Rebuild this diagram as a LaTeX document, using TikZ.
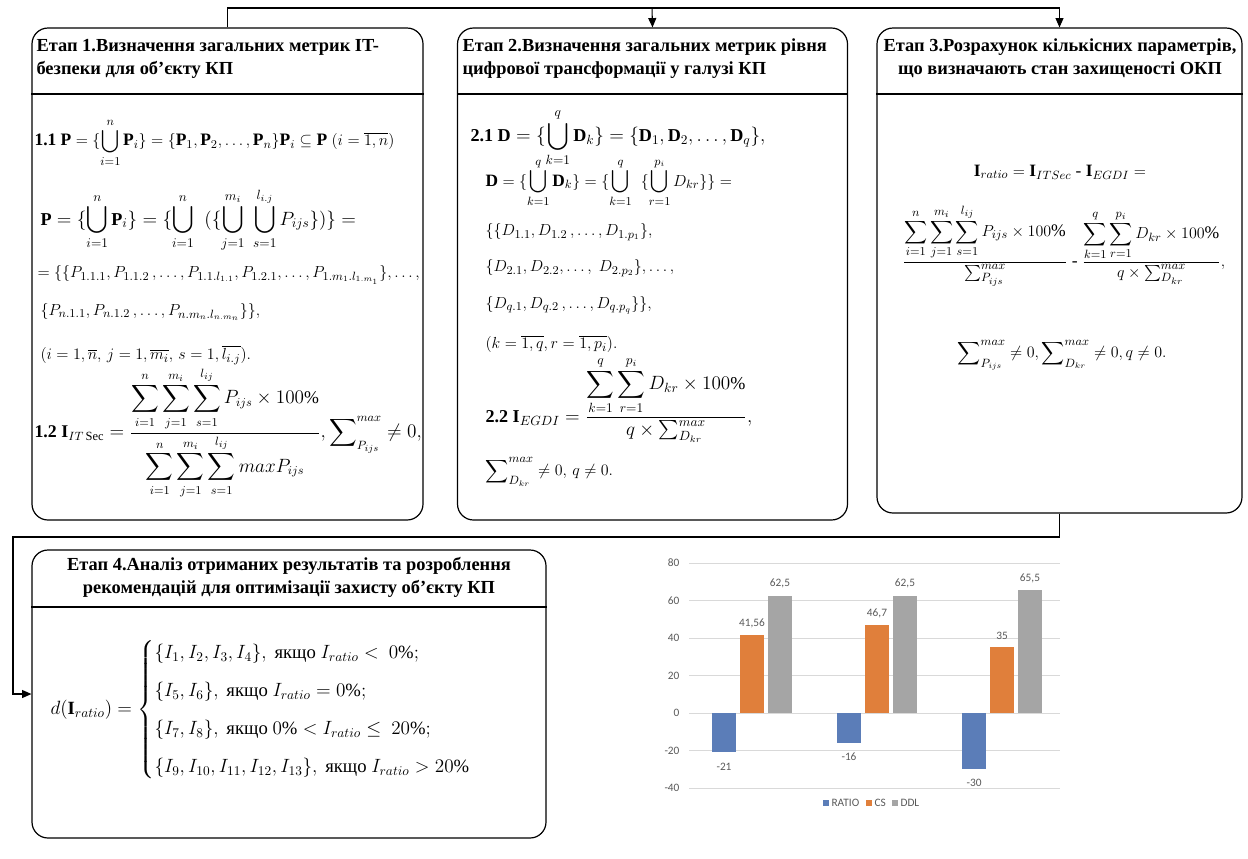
\documentclass[tikz,border=0pt]{standalone}
\usepackage{amsmath}
\usepackage{fontspec}
\setmainfont{Liberation Serif}
\newfontfamily\chartfont{Carlito}
\usetikzlibrary{arrows.meta}

\definecolor{ratioblue}{HTML}{5B7DB8}
\definecolor{csorange}{HTML}{E07F3B}
\definecolor{ddlgray}{HTML}{A5A5A5}
\definecolor{gridgray}{HTML}{D9D9D9}
\definecolor{axistext}{HTML}{595959}

\tikzset{
  stagebox/.style={draw, rounded corners=12pt, line width=0.9pt, inner sep=0pt},
  stagehead/.style={font=\fontsize{13.8}{17.25}\selectfont\bfseries, inner sep=0pt},
  formula/.style={anchor=west, inner sep=0pt, font=\fontsize{13}{16}\selectfont},
  bigformula/.style={formula, font=\fontsize{13.6}{16}\selectfont},
  barlabel/.style={font=\chartfont\fontsize{8.5}{10}\selectfont, text=axistext, inner sep=0pt},
}

\begin{document}
\begin{tikzpicture}[x=0.75pt,y=-0.75pt,>={Triangle[length=7pt,width=6pt]},line width=0.8pt]
\useasboundingbox (0,0) rectangle (1248,858);

% stages
\node[stagebox, minimum width=293.25pt, minimum height=369pt] (st1) at (227.5,274) {};
\node[stagebox, minimum width=292.5pt, minimum height=369pt] (st2) at (652.5,274) {};
\node[stagebox, minimum width=273.75pt, minimum height=363.75pt] (st3) at (1059.5,270.5) {};
\node[stagebox, minimum width=385.5pt, minimum height=216pt] (st4) at (289,694) {};

\draw[line width=0.9pt] (st1.west |- 0,94) -- (st1.east |- 0,94);
\draw[line width=0.9pt] (st2.west |- 0,94) -- (st2.east |- 0,94);
\draw[line width=0.9pt] (st3.west |- 0,94) -- (st3.east |- 0,94);
\draw[line width=0.9pt] (st4.west |- 0,607) -- (st4.east |- 0,607);

\node[stagehead, anchor=west, align=left] (h1) at (36,58.5) {Етап 1.Визначення загальних метрик IT-\\безпеки для об’єкту КП};
\node[stagehead, anchor=west, align=left] (h2) at (462,58.5) {Етап 2.Визначення загальних метрик рівня\\цифрової трансформації у галузі КП};
\node[stagehead, align=center] (h3) at (1060,58.5) {Етап 3.Розрахунок кількісних параметрів,\\що визначають стан захищеності ОКП};
\node[stagehead, align=center] (h4) at (289,577) {Етап 4.Аналіз отриманих результатів та розроблення\\рекомендацій для оптимізації захисту об’єкту КП};

% connectors
\coordinate (bus) at (652,8);
\coordinate (turn) at (13,537);
\draw (st1.north) |- (bus);
\draw[->] (bus) -- (st2.north);
\draw[->] (bus) -| (st3.north);
\draw[->] (st3.south) |- (turn) |- (st4.west);

% stage 1
\node[formula, font=\fontsize{13.1}{16}\selectfont] (f11) at (34,143) {\textbf{1.1} $\displaystyle\mathbf{P}=\{\bigcup_{i=1}^{n}\mathbf{P}_i\}=\{\mathbf{P}_1,\mathbf{P}_2,\dots,\mathbf{P}_n\}\mathbf{P}_i\subseteq\mathbf{P}\;(i=\overline{1,n})$};
\node[bigformula] (f12) at (40,220) {$\displaystyle\mathbf{P}=\{\bigcup_{i=1}^{n}\mathbf{P}_i\}=\{\bigcup_{i=1}^{n}\;\;(\{\bigcup_{j=1}^{m_i}\;\bigcup_{s=1}^{l_{i.j}}P_{ijs}\})\}=$};
\node[formula, font=\fontsize{12.5}{15}\selectfont] (f13) at (37,275) {$=\{\{P_{1.1.1},P_{1.1.2}\,,\dots,P_{1.1.l_{1.1}},P_{1.2.1},\dots,P_{1.m_1.l_{1.m_1}}\},\dots,$};
\node[formula] (f14) at (40,312) {$\{P_{n.1.1},P_{n.1.2}\,,\dots,P_{n.m_n.l_{n.m_n}}\}\},$};
\node[formula] (f15) at (40,355) {$(i=1,\overline{n},\,j=1,\overline{m_i},\,s=1,\overline{l_{i.j}}).$};
\node[formula, font=\fontsize{13.4}{16}\selectfont] (f16) at (34,433) {\textbf{1.2} $\displaystyle\mathbf{I}_{IT\,\mathrm{Sec}}=\frac{\displaystyle\sum_{i=1}^{n}\sum_{j=1}^{m_i}\sum_{s=1}^{l_{ij}}P_{ijs}\times100\%}{\displaystyle\sum_{i=1}^{n}\sum_{j=1}^{m_i}\sum_{s=1}^{l_{ij}}maxP_{ijs}},\sum\nolimits_{P_{ijs}}^{max}\neq0,$};

% stage 2
\node[bigformula] (f21) at (470,138) {\textbf{2.1} $\displaystyle\mathbf{D}=\{\bigcup_{k=1}^{q}\mathbf{D}_k\}=\{\mathbf{D}_1,\mathbf{D}_2,\dots,\mathbf{D}_q\},$};
\node[formula] (f22) at (485,183) {$\displaystyle\mathbf{D}=\{\bigcup_{k=1}^{q}\mathbf{D}_k\}=\{\bigcup_{k=1}^{q}\;\;\{\bigcup_{r=1}^{p_i}D_{kr}\}\}=$};
\node[formula] (f23) at (485,232) {$\{\{D_{1.1},D_{1.2}\,,\dots,D_{1.p_1}\},$};
\node[formula] (f24) at (485,268) {$\{D_{2.1},D_{2.2},\dots,\;D_{2.p_2}\},\dots,$};
\node[formula] (f25) at (485,305) {$\{D_{q.1},D_{q.2}\,,\dots,D_{q.p_q}\}\},$};
\node[formula] (f26) at (485,344) {$(k=\overline{1,q},r=\overline{1,p_i}).$};
\node[bigformula] (f27) at (485,400) {\textbf{2.2} $\displaystyle\mathbf{I}_{EGDI}=\frac{\displaystyle\sum_{k=1}^{q}\sum_{r=1}^{p_i}D_{kr}\times100\%}{q\times\sum\nolimits_{D_{kr}}^{max}},$};
\node[formula] (f28) at (485,472) {$\displaystyle\sum\nolimits_{D_{kr}}^{max}\neq0,\,q\neq0.$};

% stage 3
\node[formula, anchor=center] (f31) at (1060,172) {$\mathbf{I}_{ratio}=\mathbf{I}_{ITSec}\text{ - }\mathbf{I}_{EGDI}=$};
\node[formula, anchor=center, font=\fontsize{13.2}{16}\selectfont] (f32) at (1064,245) {$\displaystyle\frac{\displaystyle\sum_{i=1}^{n}\sum_{j=1}^{m_i}\sum_{s=1}^{l_{ij}}P_{ijs}\times100\%}{\sum\nolimits_{P_{ijs}}^{max}}\text{ - }\frac{\displaystyle\sum_{k=1}^{q}\sum_{r=1}^{p_i}D_{kr}\times100\%}{q\times\sum\nolimits_{D_{kr}}^{max}},$};
\node[formula, anchor=center] (f33) at (1062,355) {$\displaystyle\sum\nolimits_{P_{ijs}}^{max}\neq0,\sum\nolimits_{D_{kr}}^{max}\neq0,q\neq0.$};

% stage 4
\node[formula, font=\fontsize{14}{17}\selectfont] (f41) at (50,710) {$d(\mathbf{I}_{ratio})=\begin{cases}\{I_1,I_2,I_3,I_4\},\ \text{якщо}\ I_{ratio}<\ 0\%;\\[8pt] \{I_5,I_6\},\ \text{якщо}\ I_{ratio}=0\%;\\[8pt] \{I_7,I_8\},\ \text{якщо}\ 0\%<I_{ratio}\le\ 20\%;\\[8pt] \{I_9,I_{10},I_{11},I_{12},I_{13}\},\ \text{якщо}\ I_{ratio}>20\%\end{cases}$};

% chart
\foreach \v in {-40,-20,...,80} {
  \draw[gridgray, line width=0.75pt] (689,{713-\v*1.875}) -- (1060,{713-\v*1.875});
  \node[barlabel, anchor=east] (yl\v) at (680,{713-\v*1.875}) {\v};
}
\foreach \g/\r/\c/\d/\cl/\dl [count=\i] in {724/-21/41.56/62.5/{41,56}/{62,5}, 849/-16/46.7/62.5/{46,7}/{62,5}, 974/-30/35/65.5/35/{65,5}} {
  \fill[ratioblue] ({\g-12},713) rectangle ({\g+12},{713-\r*1.875});
  \fill[csorange] ({\g+16},713) rectangle ({\g+40},{713-\c*1.875});
  \fill[ddlgray] ({\g+44},713) rectangle ({\g+68},{713-\d*1.875});
  \node[barlabel] (rv\i) at (\g,{713-\r*1.875+14}) {\r};
  \node[barlabel] (cv\i) at ({\g+28},{713-\c*1.875-12}) {\cl};
  \node[barlabel] (dv\i) at ({\g+56},{713-\d*1.875-12}) {\dl};
}
\fill[ratioblue] (823,800) rectangle (829,806);
\node[barlabel, anchor=west] (lg1) at (831,803) {RATIO};
\fill[csorange] (866,800) rectangle (872,806);
\node[barlabel, anchor=west] (lg2) at (874,803) {CS};
\fill[ddlgray] (892,800) rectangle (898,806);
\node[barlabel, anchor=west] (lg3) at (900,803) {DDL};
\end{tikzpicture}
\end{document}
